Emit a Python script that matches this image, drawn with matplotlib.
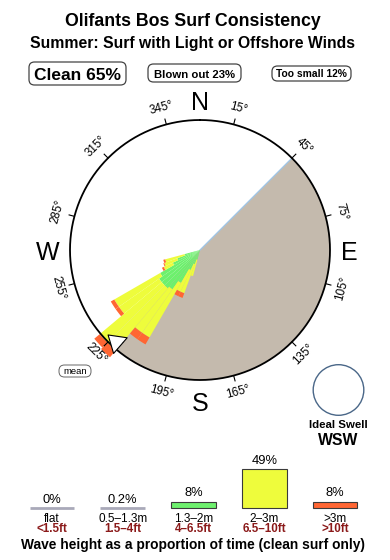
import numpy as np
import matplotlib
matplotlib.use("Agg")
import matplotlib.pyplot as plt
from matplotlib.patches import FancyBboxPatch, Circle

plt.rcParams['font.family'] = ['Liberation Sans', 'DejaVu Sans']

# ---------------- data ----------------
title = "Olifants Bos Surf Consistency"
subtitle = "Summer: Surf with Light or Offshore Winds"
clean_label = "Clean 65%"
blown_label = "Blown out 23%"
small_label = "Too small 12%"

# swell direction bins (start bearing, deg) and % of time per wave-height class
dir_start = [195, 200, 205, 210, 215, 220, 225, 230, 235, 240, 245, 250]
bin_width = 5
green_pct = [1.0, 1.5, 2.2, 3.8, 4.8, 5.0, 5.0, 5.0, 4.6, 3.0, 2.4, 1.6]
yellow_pct = [1.7, 3.1, 2.4, 6.3, 5.3, 8.1, 8.1, 4.9, 5.3, 1.0, 1.4, 2.0]
orange_pct = [0.0, 0.5, 0.5, 0.8, 0.8, 0.9, 0.7, 0.4, 0.4, 0.2, 0.1, 0.2]

compass_ticks = [15, 45, 75, 105, 135, 165, 195, 225, 255, 285, 315, 345]
cardinals = ['N', 'E', 'S', 'W']
cardinal_dirs = [0, 90, 180, 270]
land_start, land_end = 45, 225
ideal_swell = "WSW"

size_m = ['flat', '0.5–1.3m', '1.3–2m', '2–3m', '>3m']
size_ft = ['<1.5ft', '1.5–4ft', '4–6.5ft', '6.5–10ft', '>10ft']
size_pct = [0, 0.2, 8, 49, 8]
size_txt = ['0%', '0.2%', '8%', '49%', '8%']

# ---------------- style ----------------
W, H = 390, 560
C_GREEN = '#6df06d'
C_YELLOW = '#eefc3c'
C_ORANGE = '#ff6633'
C_LAND = '#c4baad'
C_RED = '#8b1a1a'
RING = 13.0
RMAX = 15.0

fig = plt.figure(figsize=(W / 100, H / 100), dpi=100)


def ftext(x, y, s, **kw):
    fig.text(x / W, 1 - y / H, s, **kw)


def rbox(x0, y0, x1, y1, ec='#444444', lw=0.9):
    p = FancyBboxPatch((x0 / 100, (H - y1) / 100), (x1 - x0) / 100, (y1 - y0) / 100,
                       boxstyle='round,pad=0,rounding_size=0.055',
                       transform=fig.dpi_scale_trans, fc='white', ec=ec, lw=lw)
    fig.add_artist(p)


ftext(193, 26, title, ha='center', va='baseline', fontsize=12.8, fontweight='bold')
ftext(193, 48, subtitle, ha='center', va='baseline', fontsize=11.3, fontweight='bold')

rbox(29, 62, 126, 85)
ftext(77.5, 79.5, clean_label, ha='center', va='baseline', fontsize=12.5, fontweight='bold')
rbox(148, 64, 241, 82)
ftext(194.5, 77.5, blown_label, ha='center', va='baseline', fontsize=8.2, fontweight='bold')
rbox(272, 66, 351, 81)
ftext(311.5, 77, small_label, ha='center', va='baseline', fontsize=7.4, fontweight='bold')

# ---------------- rose ----------------
cx, cy, Rpx = 200, 250, 150
ax = fig.add_axes([(cx - Rpx) / W, (H - cy - Rpx) / H, 2 * Rpx / W, 2 * Rpx / H],
                  projection='polar')
ax.set_theta_zero_location('N')
ax.set_theta_direction(-1)
ax.set_ylim(0, RMAX)
ax.axis('off')

# land (no-swell) sector
land_w = np.deg2rad(land_end - land_start)
ax.bar(np.deg2rad((land_start + land_end) / 2), RING, width=land_w, bottom=0,
       color=C_LAND, edgecolor='none', zorder=1)
ax.plot([np.deg2rad(land_start)] * 2, [0, RING], color='#9fc6e8', lw=0.9, zorder=1.5)

theta = np.deg2rad(np.array(dir_start) + bin_width / 2)
wid = np.deg2rad(bin_width)
g = np.array(green_pct)
y = np.array(yellow_pct)
o = np.array(orange_pct)
ax.bar(theta, g, width=wid, bottom=0, color=C_GREEN, edgecolor='none', lw=0, zorder=2, clip_on=False)
ax.bar(theta, y, width=wid, bottom=g, color=C_YELLOW, edgecolor='none', lw=0, zorder=2, clip_on=False)
ax.bar(theta, o, width=wid, bottom=g + y, color=C_ORANGE, edgecolor='none', lw=0, zorder=2, clip_on=False)

tt = np.linspace(0, 2 * np.pi, 721)
ax.plot(tt, np.full_like(tt, RING), color='black', lw=1.3, zorder=3)

for b in compass_ticks:
    r = np.deg2rad(b)
    ax.plot([r, r], [RING, RING + 0.55], color='black', lw=0.8, zorder=3)
    rot = -b if (b < 90 or b > 270) else 180 - b
    ax.text(r, 14.7, f"{b}°", rotation=rot, rotation_mode='anchor',
            ha='center', va='center', fontsize=8.4, zorder=4)

card_r = [14.95, 14.95, 15.15, 15.2]
for lab, d, rr in zip(cardinals, cardinal_dirs, card_r):
    ax.text(np.deg2rad(d), rr, lab, ha='center', va='center_baseline', fontsize=18)

# mean direction arrow
ax.annotate('', xy=(np.deg2rad(228.5), 12.55), xytext=(np.deg2rad(218.5), 12.45),
            arrowprops=dict(arrowstyle='simple,head_length=0.9,head_width=1.15,tail_width=0.5',
                            mutation_scale=13, fc='white', ec='black', lw=0.8), zorder=5)

rbox(59, 365, 91, 377, ec='#666666', lw=0.7)
ftext(75, 374.5, 'mean', ha='center', va='baseline', fontsize=6.8)

# ideal swell circle
fig.add_artist(Circle((338.5 / 100, (H - 390) / 100), 0.253, transform=fig.dpi_scale_trans,
                      fc='white', ec='#4a6788', lw=1.0))
ftext(338.5, 428, 'Ideal Swell', ha='center', va='baseline', fontsize=8.2, fontweight='bold')
ftext(338.5, 445, ideal_swell, ha='center', va='baseline', fontsize=11.3, fontweight='bold')

# ---------------- wave height bars ----------------
step = 70.75
base_y = 508
bx = fig.add_axes([(52 - step / 2) / W, (H - base_y) / H, 5 * step / W, 50 / H])
bx.set_xlim(-0.5, 4.5)
bx.set_ylim(0, 62.5)
bx.axis('off')
cols = ['#a9a9b9', '#a9a9b9', C_GREEN, C_YELLOW, C_ORANGE]
ecol = ['#a9a9b9', '#a9a9b9', '#3a3a3a', '#3a3a3a', '#3a3a3a']
lws = [2.0, 2.0, 0.8, 0.8, 0.8]
bx.bar(range(5), size_pct, width=0.636, color=cols, edgecolor=ecol, linewidth=lws, clip_on=False)
for i, (v, t, m, ft) in enumerate(zip(size_pct, size_txt, size_m, size_ft)):
    bx.annotate(t, (i, v), xytext=(0, 3.8), textcoords='offset points',
                ha='center', va='baseline', fontsize=9.3, annotation_clip=False)
    bx.annotate(m, (i, 0), xytext=(0, -10.0), textcoords='offset points',
                ha='center', va='baseline', fontsize=8.5, annotation_clip=False)
    bx.annotate(ft, (i, 0), xytext=(0, -17.6), textcoords='offset points',
                ha='center', va='baseline', fontsize=8.4, fontweight='bold', color=C_RED,
                annotation_clip=False)

ftext(193, 549, 'Wave height as a proportion of time (clean surf only)',
      ha='center', va='baseline', fontsize=9.9, fontweight='bold')

fig.savefig('out.png', dpi=100)
